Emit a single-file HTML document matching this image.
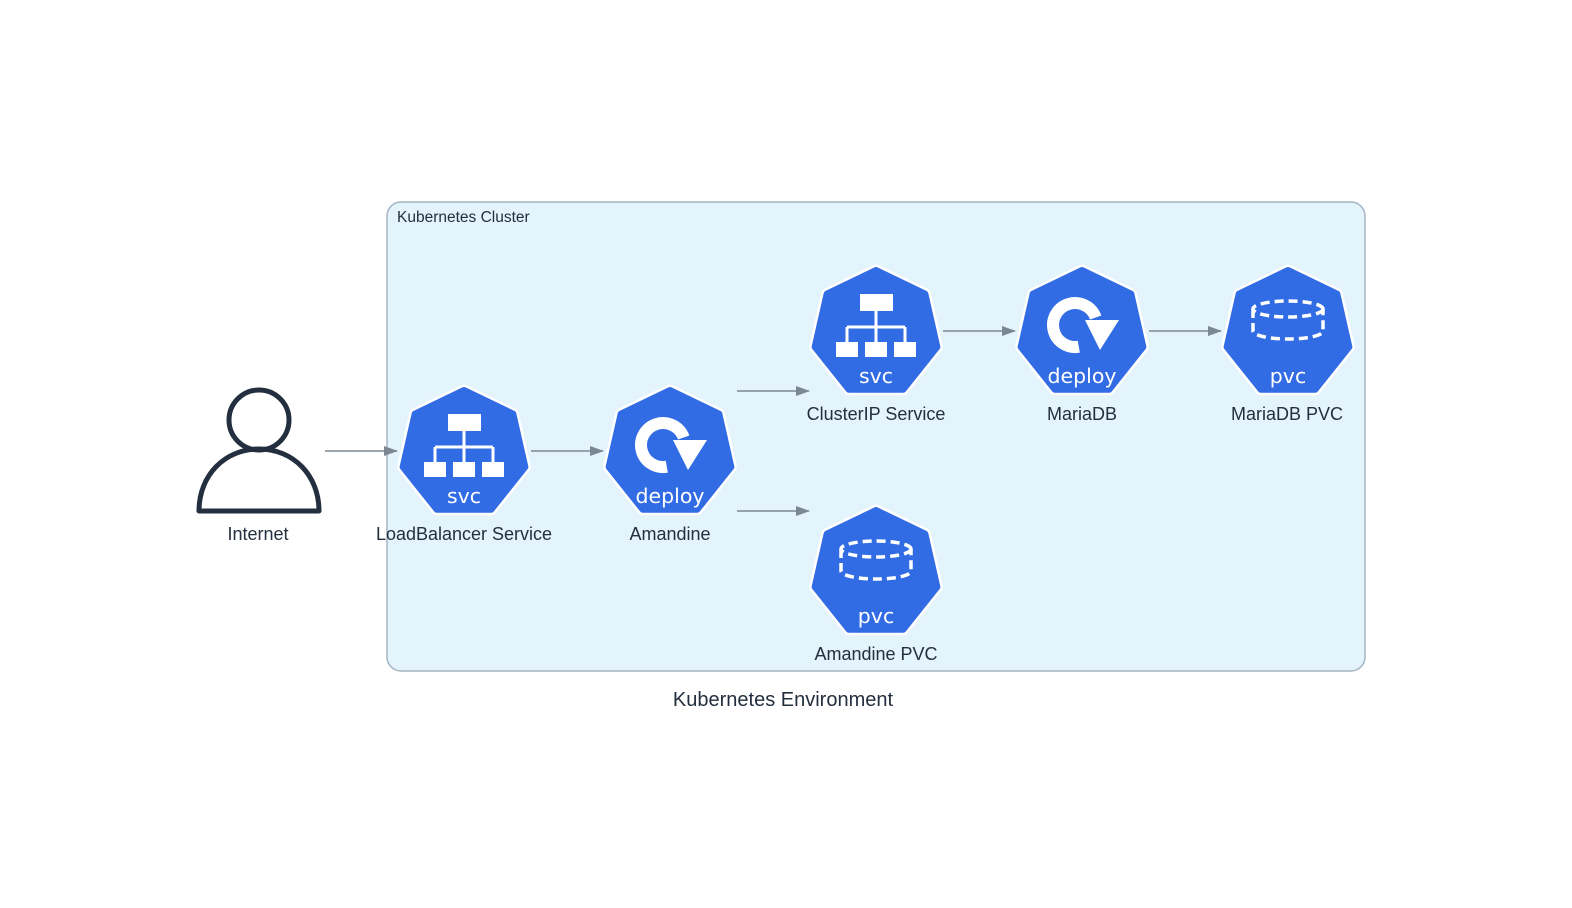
<!DOCTYPE html>
<html><head><meta charset="utf-8"><style>html,body{margin:0;padding:0;background:#fff}svg{display:block}text{font-family:"Liberation Sans",sans-serif}</style></head>
<body>
<svg width="1572" height="908" viewBox="0 0 1572 908" xmlns="http://www.w3.org/2000/svg">
<defs>
<marker id="ah" markerWidth="14" markerHeight="10" refX="13" refY="5" orient="auto" markerUnits="userSpaceOnUse"><path d="M0,0 L14,5 L0,10 Z" fill="#7b8894"/></marker>
<g id="hep">
<polygon points="0,-63 49.3,-39.3 61.4,14 27.3,56.8 -27.3,56.8 -61.4,14 -49.3,-39.3" fill="#fff" stroke="#fff" stroke-width="11" stroke-linejoin="round"/>
<polygon points="0,-63 49.3,-39.3 61.4,14 27.3,56.8 -27.3,56.8 -61.4,14 -49.3,-39.3" fill="#326ce5" stroke="#326ce5" stroke-width="6" stroke-linejoin="round"/>
</g>
<g id="svc">
<use href="#hep"/>
<rect x="-16" y="-39" width="33" height="17" fill="#fff"/>
<path d="M0,-22 V-6 M-29,-6 H29 M-29,-6 V9 M0,-6 V9 M29,-6 V9" stroke="#fff" stroke-width="3" fill="none"/>
<rect x="-40" y="9" width="22" height="15" fill="#fff"/>
<rect x="-11" y="9" width="22" height="15" fill="#fff"/>
<rect x="18" y="9" width="22" height="15" fill="#fff"/>
<text x="0" y="50" text-anchor="middle" font-size="20.5" fill="#fff" style="font-family:'DejaVu Sans',sans-serif">svc</text>
</g>
<g id="dep">
<use href="#hep"/>
<path d="M13.7,-15.5 A22,22 0 1 0 -3.2,13.7" stroke="#fff" stroke-width="12" fill="none"/>
<path d="M3,-13 L37,-13 L18,17 Z" fill="#fff"/>
<text x="0" y="50" text-anchor="middle" font-size="20.5" fill="#fff" style="font-family:'DejaVu Sans',sans-serif">deploy</text>
</g>
<g id="pvc">
<use href="#hep"/>
<g stroke="#fff" stroke-width="3.5" fill="none" stroke-dasharray="9,5">
<ellipse cx="0" cy="-24" rx="35" ry="8"/>
<path d="M-35,-24 V-2 A35,8 0 0 0 35,-2 V-24"/>
</g>
<text x="0" y="50" text-anchor="middle" font-size="20.5" fill="#fff" style="font-family:'DejaVu Sans',sans-serif">pvc</text>
</g>
</defs>
<rect x="387" y="202" width="978" height="469" rx="14" fill="#e3f4fc" stroke="#a6b4c0" stroke-width="1.5"/>
<text x="397" y="222" font-size="15.5" fill="#232f3e">Kubernetes Cluster</text>
<g stroke="#7b8894" stroke-width="1.5" marker-end="url(#ah)">
<line x1="325" y1="451" x2="397" y2="451"/>
<line x1="531" y1="451" x2="603" y2="451"/>
<line x1="737" y1="391" x2="809" y2="391"/>
<line x1="737" y1="511" x2="809" y2="511"/>
<line x1="943" y1="331" x2="1015" y2="331"/>
<line x1="1149" y1="331" x2="1221" y2="331"/>
</g>
<circle cx="259" cy="420" r="30" fill="none" stroke="#232f3e" stroke-width="5"/>
<path d="M199,511 C199,475 225,449 259,449 C293,449 319,475 319,511 Z" fill="none" stroke="#232f3e" stroke-width="5" stroke-linejoin="round"/>
<use href="#svc" x="464" y="453"/>
<use href="#dep" x="670" y="453"/>
<use href="#svc" x="876" y="333"/>
<use href="#dep" x="1082" y="333"/>
<use href="#pvc" x="1288" y="333"/>
<use href="#pvc" x="876" y="573"/>
<g font-size="18" fill="#232f3e" text-anchor="middle">
<text x="258" y="540">Internet</text>
<text x="464" y="540">LoadBalancer Service</text>
<text x="670" y="540">Amandine</text>
<text x="876" y="420">ClusterIP Service</text>
<text x="1082" y="420">MariaDB</text>
<text x="1287" y="420">MariaDB PVC</text>
<text x="876" y="660">Amandine PVC</text>
</g>
<text x="783" y="706" font-size="20" fill="#232f3e" text-anchor="middle">Kubernetes Environment</text>
</svg>
</body></html>
